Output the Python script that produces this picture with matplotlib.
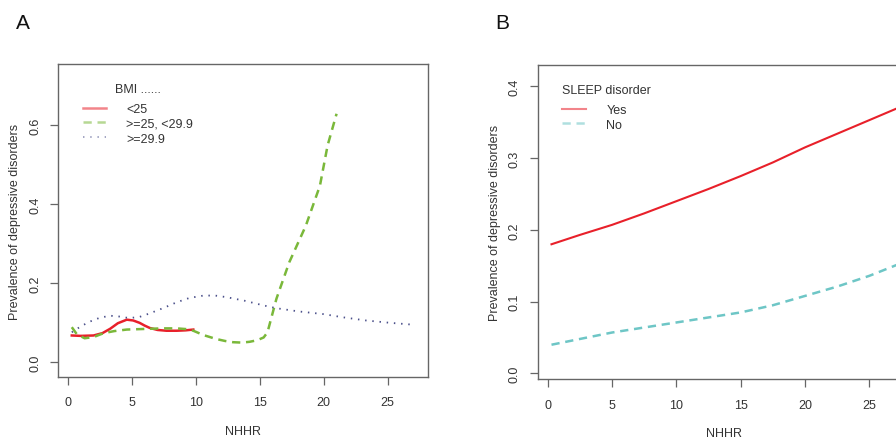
import matplotlib
matplotlib.use("Agg")
import matplotlib.pyplot as plt

# ----------------------------
# DATA
# ----------------------------
bmi_low_x = [0.3, 1.0, 2.0, 2.7, 3.3, 3.9, 4.6, 5.1, 5.6, 6.0, 6.4, 7.0, 7.7, 8.5, 9.2, 9.8]
bmi_low_y = [0.067, 0.066, 0.067, 0.073, 0.084, 0.098, 0.107, 0.105, 0.099, 0.092, 0.086, 0.081, 0.079, 0.079, 0.080, 0.082]

bmi_mid_x = [0.3, 0.7, 1.3, 2.0, 2.8, 3.6, 4.6, 5.5, 6.4, 7.5, 8.5, 9.3, 9.8, 10.6, 11.6, 12.3,
             12.9, 13.6, 14.2, 14.8, 15.3, 15.6, 16.3, 17.3, 18.6, 19.7, 20.3, 21.0]
bmi_mid_y = [0.088, 0.070, 0.060, 0.063, 0.073, 0.078, 0.082, 0.083, 0.084, 0.085, 0.085, 0.083, 0.079, 0.068, 0.058, 0.053,
             0.050, 0.049, 0.051, 0.055, 0.062, 0.075, 0.160, 0.252, 0.345, 0.446, 0.548, 0.628]

bmi_high_x = [0.3, 1.0, 1.7, 2.5, 3.3, 4.0, 4.8, 5.6, 6.4, 7.5, 8.5, 9.5, 10.6, 11.5, 12.4, 13.8,
              15.3, 16.3, 18.0, 20.0, 21.5, 23.3, 25.2, 27.1]
bmi_high_y = [0.075, 0.090, 0.102, 0.112, 0.117, 0.115, 0.111, 0.114, 0.123, 0.137, 0.151, 0.162, 0.168, 0.168, 0.164, 0.155,
              0.143, 0.136, 0.128, 0.121, 0.113, 0.105, 0.099, 0.094]

sleep_x = [0.3, 2.5, 5.0, 7.5, 10.0, 12.5, 15.0, 17.5, 20.0, 22.5, 25.0, 27.1]
sleep_yes = [0.180, 0.193, 0.207, 0.223, 0.240, 0.257, 0.275, 0.294, 0.315, 0.334, 0.353, 0.369]
sleep_no = [0.040, 0.048, 0.057, 0.064, 0.071, 0.078, 0.085, 0.095, 0.108, 0.121, 0.136, 0.151]

X_TICKS = [0, 5, 10, 15, 20, 25]

RED = "#e8202a"
GREEN = "#7ab83a"
SLATE = "#4a4f8a"
CYAN = "#6ec6c6"
TEXT = "#333333"
FRAME = "#666666"

plt.rcParams["font.family"] = ["Liberation Sans", "DejaVu Sans"]
plt.rcParams["font.size"] = 9
plt.rcParams["text.color"] = TEXT
plt.rcParams["axes.labelcolor"] = TEXT
plt.rcParams["xtick.color"] = FRAME
plt.rcParams["ytick.color"] = FRAME
plt.rcParams["xtick.labelcolor"] = TEXT
plt.rcParams["ytick.labelcolor"] = TEXT


def style_axes(ax, yticks):
    for s in ax.spines.values():
        s.set_color(FRAME)
        s.set_linewidth(1.0)
    ax.set_xticks(X_TICKS)
    ax.set_yticks(yticks)
    ax.set_yticklabels([f"{v:.1f}" for v in yticks], rotation=90, va="center")
    ax.tick_params(axis="x", direction="out", length=6, width=0.9, pad=8)
    ax.tick_params(axis="y", direction="out", length=6, width=0.9, pad=6)
    ax.set_xlabel("NHHR", labelpad=12)
    ax.set_ylabel("Prevalence of depressive disorders", labelpad=6)


def add_legend(ax, title):
    leg = ax.legend(title=title, loc="upper left", bbox_to_anchor=(0.05, 0.96),
                    frameon=False, borderpad=0, handlelength=1.9, handletextpad=1.6,
                    labelspacing=0.22, fontsize=9, title_fontsize=9)
    leg._legend_box.sep = 6
    for h in leg.get_lines():
        h.set_alpha(0.55)
    return leg


fig = plt.figure(figsize=(8.96, 4.39), dpi=100)

# Panel A
ax_a = fig.add_axes([0.0647, 0.139, 0.413, 0.713])
ax_a.plot(bmi_low_x, bmi_low_y, color=RED, lw=1.8, label="<25")
ax_a.plot(bmi_mid_x, bmi_mid_y, color=GREEN, lw=1.8, ls=(0, (3.3, 2.3)), label=">=25, <29.9")
ax_a.plot(bmi_high_x, bmi_high_y, color=SLATE, lw=1.3, ls=(0, (0.8, 3.2)), label=">=29.9")
ax_a.set_xlim(-0.78, 28.15)
ax_a.set_ylim(-0.038, 0.754)
style_axes(ax_a, [0.0, 0.2, 0.4, 0.6])
add_legend(ax_a, "BMI ......")

# Panel B (right side cropped in the reference)
ax_b = fig.add_axes([0.600, 0.134, 0.4155, 0.716])
ax_b.plot(sleep_x, sleep_yes, color=RED, lw=1.5, label="Yes")
ax_b.plot(sleep_x, sleep_no, color=CYAN, lw=1.8, ls=(0, (3.3, 2.3)), label="No")
ax_b.set_xlim(-0.78, 28.15)
ax_b.set_ylim(-0.008, 0.43)
style_axes(ax_b, [0.0, 0.1, 0.2, 0.3, 0.4])
leg_b = add_legend(ax_b, "SLEEP disorder")
leg_b._legend_box.align = "left"

fig.text(0.018, 0.935, "A", fontsize=15, color="#111111")
fig.text(0.553, 0.935, "B", fontsize=15, color="#111111")

fig.savefig("out.png", dpi=100)
